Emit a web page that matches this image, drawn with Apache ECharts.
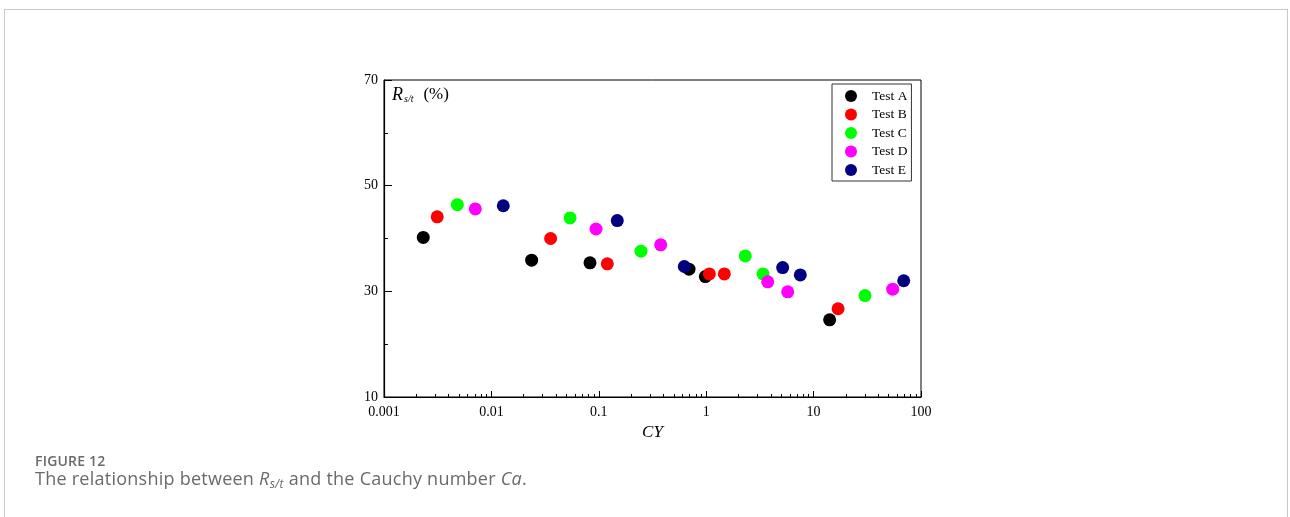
<!DOCTYPE html>
<html>
<head>
<meta charset="utf-8">
<script src="https://cdn.jsdelivr.net/npm/echarts@6/dist/echarts.min.js"></script>
<style>
  html, body { margin: 0; padding: 0; background: #fff; }
  #wrap { position: relative; width: 1290px; height: 517px; overflow: hidden; }
  #frame { position: absolute; left: 4px; top: 9px; width: 1284px; height: 520px; border: 1px solid #c8c8c8; box-sizing: border-box; }
  #chart { position: absolute; left: 0; top: 0; width: 1290px; height: 517px; }
  .cap1 { position: absolute; left: 35px; top: 451px; font-family: "Open Sans", sans-serif; font-size: 14px; font-weight: 600; color: #6a6a6a; letter-spacing: 0.2px; }
  .cap2 { position: absolute; left: 35px; top: 466px; font-family: "Open Sans", sans-serif; font-size: 18px; color: #6a6a6a; white-space: nowrap; letter-spacing: 0.25px; }
  .cap2 sub { font-size: 12px; vertical-align: -3px; line-height: 0; }
</style>
</head>
<body>
<div id="wrap">
  <div id="frame"></div>
  <div id="chart"></div>
  <div class="cap1">FIGURE 12</div>
  <div class="cap2">The relationship between <i>R<sub>s/t</sub></i> and the Cauchy number <i>Ca</i>.</div>
</div>
<script>
// ---- data ----
const seriesNames = ['Test A', 'Test B', 'Test C', 'Test D', 'Test E'];
const seriesColors = ['#000000', '#ff0000', '#00ff00', '#ff00ff', '#000080'];

const testA_x = [0.00232, 0.0237, 0.0828, 0.692, 0.982, 14.1];
const testA_y = [40.2, 35.9, 35.4, 34.2, 32.8, 24.6];

const testB_x = [0.00313, 0.0356, 0.120, 1.07, 1.475, 16.9];
const testB_y = [44.1, 40.0, 35.2, 33.3, 33.3, 26.7];

const testC_x = [0.00482, 0.054, 0.247, 2.31, 3.38, 30.1];
const testC_y = [46.4, 43.9, 37.6, 36.7, 33.3, 29.2];

const testD_x = [0.00708, 0.0942, 0.377, 3.74, 5.74, 54.5];
const testD_y = [45.6, 41.8, 38.8, 31.8, 29.9, 30.4];

const testE_x = [0.0129, 0.1486, 0.625, 5.15, 7.52, 69.0];
const testE_y = [46.2, 43.4, 34.7, 34.5, 33.1, 32.0];

const xTickLabels = ['0.001', '0.01', '0.1', '1', '10', '100'];
const yTickLabels = ['10', '30', '50', '70'];

// ---- build ----
const allX = [testA_x, testB_x, testC_x, testD_x, testE_x];
const allY = [testA_y, testB_y, testC_y, testD_y, testE_y];

const xMin = 0.001, xMax = 100;
const minorVals = [];
for (let d = -3; d < 2; d++) {
  for (let k = 2; k <= 9; k++) minorVals.push(+(k * Math.pow(10, d)).toPrecision(3));
}

const serif = '"Liberation Serif", "Times New Roman", serif';
const chart = echarts.init(document.getElementById('chart'), null, { renderer: 'canvas' });

const series = seriesNames.map((name, i) => ({
  name: name,
  type: 'scatter',
  xAxisIndex: 0,
  yAxisIndex: 0,
  symbol: 'circle',
  symbolSize: 13,
  itemStyle: { color: seriesColors[i], opacity: 1 },
  emphasis: { disabled: true },
  data: allX[i].map((x, j) => [x, allY[i][j]])
}));

chart.setOption({
  animation: false,
  backgroundColor: 'transparent',
  grid: {
    left: 384, top: 80, width: 537, height: 317,
    show: true, borderColor: '#000', borderWidth: 1, backgroundColor: 'transparent'
  },
  legend: {
    left: 832, top: 84,
    orient: 'vertical',
    data: seriesNames,
    icon: 'circle',
    itemWidth: 12, itemHeight: 12,
    itemGap: 4.5,
    padding: [5, 4, 4, 13],
    borderColor: '#333', borderWidth: 1,
    backgroundColor: '#fff',
    textStyle: { fontFamily: serif, fontSize: 13.5, color: '#000', padding: [0, 0, 0, 10] },
    selectedMode: false
  },
  xAxis: [{
    type: 'log', logBase: 10, min: xMin, max: xMax,
    axisLine: { show: true, lineStyle: { color: '#000', width: 1.2 } },
    axisTick: { show: true, inside: true, length: 6, lineStyle: { color: '#000', width: 1 } },
    axisLabel: {
      show: true, margin: 8, fontFamily: serif, fontSize: 14, color: '#000',
      formatter: function (v) {
        const idx = Math.round(Math.log10(v)) + 3;
        return xTickLabels[idx] !== undefined ? xTickLabels[idx] : '';
      }
    },
    splitLine: { show: false },
    name: 'CY', nameLocation: 'middle', nameGap: 20,
    nameTextStyle: { fontFamily: serif, fontSize: 17, fontStyle: 'italic', color: '#000' }
  }, {
    type: 'log', logBase: 10, min: xMin, max: xMax, gridIndex: 0, position: 'bottom',
    axisLine: { show: false },
    axisTick: { show: true, inside: true, length: 3, customValues: minorVals, lineStyle: { color: '#000', width: 1 } },
    axisLabel: { show: false },
    splitLine: { show: false }
  }],
  yAxis: {
    type: 'value', min: 10, max: 70, interval: 20,
    axisLine: { show: true, lineStyle: { color: '#000', width: 1.2 } },
    axisTick: { show: true, inside: true, length: 8, lineStyle: { color: '#000', width: 1 } },
    minorTick: { show: true, splitNumber: 2, length: 4, lineStyle: { color: '#000', width: 1 } },
    axisLabel: {
      margin: 6, fontFamily: serif, fontSize: 14, color: '#000',
      formatter: function (v) { const i = Math.round((v - 10) / 20); return yTickLabels[i] || ''; }
    },
    splitLine: { show: false }
  },
  graphic: [{
    type: 'text',
    left: 392, top: 86,
    style: {
      text: '{r|R}{s|s/t}{p|(%)}',
      rich: {
        r: { fontFamily: serif, fontSize: 18, fontStyle: 'italic', fill: '#000' },
        s: { fontFamily: serif, fontSize: 10, fontStyle: 'italic', fill: '#000', verticalAlign: 'bottom', padding: [7, 10, 0, 1] },
        p: { fontFamily: serif, fontSize: 17, fill: '#000' }
      }
    }
  }],
  series: series
});
</script>
</body>
</html>
